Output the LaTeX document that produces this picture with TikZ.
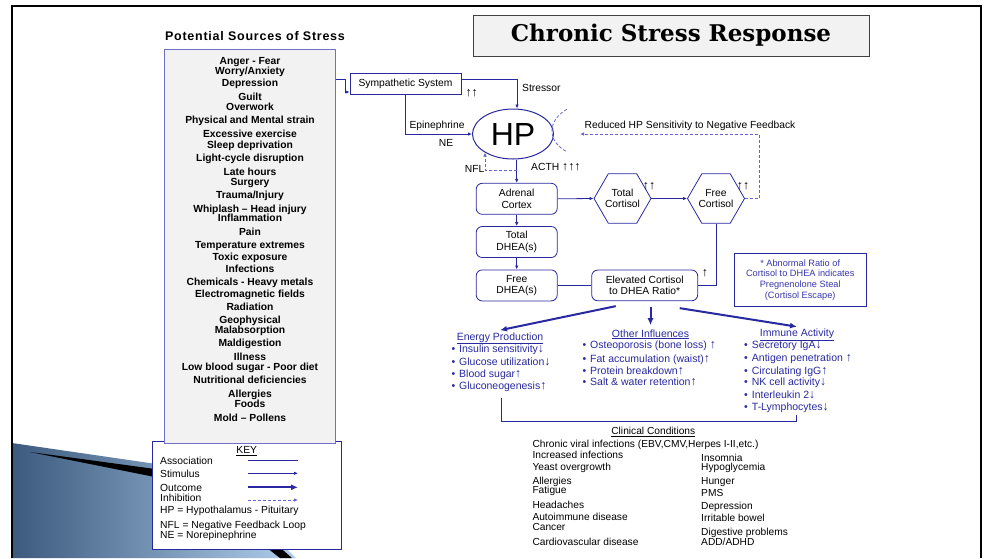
\documentclass[tikz,border=0pt]{standalone}
\usepackage{fontspec}
\setmainfont{Liberation Sans}
\newfontfamily\titlefont{DejaVu Serif}
\usetikzlibrary{arrows.meta,shapes.geometric}

\definecolor{lineblue}{RGB}{40,40,160}
\definecolor{dashblue}{RGB}{100,100,210}
\definecolor{boxgrey}{RGB}{242,242,242}
\definecolor{srcborder}{RGB}{112,112,200}
\definecolor{notetext}{RGB}{55,55,170}
\definecolor{swoopdark}{RGB}{60,90,125}
\definecolor{swooplight}{RGB}{175,205,235}

% arrows used as up / down marks in the text
\newcommand{\uarr}{{\fontsize{12.3}{12}\selectfont ↑}}
\newcommand{\darr}{{\fontsize{12.3}{12}\selectfont ↓}}

% connector and box styles
\tikzset{
  assoc/.style={draw=lineblue, line width=0.8pt},
  stim/.style={assoc, -{Latex[length=4pt,width=3.5pt]}},
  outc/.style={draw=lineblue, line width=2pt, -{Latex[length=7pt,width=6pt]}},
  inhib/.style={draw=dashblue, line width=0.8pt, dash pattern=on 3pt off 2pt, -{Latex[length=4pt,width=3.5pt]}},
  organ/.style={draw=lineblue, line width=0.8pt, rounded corners=6pt, align=center,
    minimum width=81pt, minimum height=31pt, inner sep=1pt, font=\fontsize{10.3}{11.5}\selectfont},
  hormone/.style={draw=lineblue, line width=0.8pt, regular polygon, regular polygon sides=6,
    minimum size=50pt, inner sep=0pt, align=center, font=\fontsize{10.3}{11.5}\selectfont},
  txt/.style={inner sep=0pt, font=\fontsize{10.3}{12}\selectfont},
  srcitem/.style={inner sep=0pt, anchor=base, font=\fontsize{10.3}{12}\selectfont\bfseries},
  blueitem/.style={inner sep=0pt, anchor=base west, text=lineblue, font=\fontsize{10.5}{12}\selectfont,
    execute at begin node=\llap{\textbullet\hspace{4pt}}},
  bluehead/.style={inner sep=0pt, anchor=base, text=lineblue, font=\fontsize{10.5}{12}\selectfont},
  clinitem/.style={inner sep=0pt, anchor=base west, font=\fontsize{10.2}{12}\selectfont},
}

\begin{document}
\begin{tikzpicture}[x=1pt,y=-1pt]
  \useasboundingbox (0,0) rectangle (992,558);

  % slide decoration
  \shade[left color=swoopdark, right color=swooplight]
    (12,443) -- (170,466) .. controls (230,500) and (268,530) .. (296,558) -- (12,558) -- cycle;
  \fill[black] (30,452) -- (170,471) .. controls (230,505) and (266,535) .. (292,558) -- (280,558)
    .. controls (250,535) and (215,505) .. (165,479) -- cycle;
  \draw[line width=2.5pt] (12,558) -- (12,6) -- (981,6) -- (981,558);

  % title
  \node[draw=black!75, fill=boxgrey, line width=0.8pt, minimum width=396pt, minimum height=41pt,
    font=\titlefont\bfseries\fontsize{23}{26}\selectfont] (title) at (671,35.5) {Chronic Stress Response};

  % key
  \node[draw=lineblue, fill=white, line width=0.8pt, minimum width=189.4pt, minimum height=107.6pt] (key) at (247,495.5) {};
  \node[txt, anchor=base] (keyhdr) at (246.7,453.7) {\underline{KEY}};
  \node[txt, anchor=base west] (kassoc) at (160,464.4) {Association};
  \node[txt, anchor=base west] (kstim) at (160,477) {Stimulus};
  \node[txt, anchor=base west] (koutc) at (160,491) {Outcome};
  \node[txt, anchor=base west] (kinhib) at (160,501) {Inhibition};
  \node[txt, anchor=base west] (khp) at (160,513.7) {HP = Hypothalamus - Pituitary};
  \node[txt, anchor=base west] (knfl) at (160,528.7) {NFL = Negative Feedback Loop};
  \node[txt, anchor=base west] (kne) at (160,538.7) {NE = Norepinephrine};
  \coordinate (ka1) at (248,460.7); \coordinate (ka2) at (298,460.7);
  \coordinate (ks1) at (248,473.3); \coordinate (ks2) at (298,473.3);
  \coordinate (ko1) at (248,487.3); \coordinate (ko2) at (298,487.3);
  \coordinate (ki1) at (248,500);   \coordinate (ki2) at (298,500);
  \draw[assoc] (ka1) -- (ka2);
  \draw[stim] (ks1) -- (ks2);
  \draw[outc] (ko1) -- (ko2);
  \draw[inhib] (ki1) -- (ki2);

  % sources of stress
  \node[inner sep=0pt, anchor=base, font=\fontsize{12.5}{14}\selectfont\bfseries\addfontfeature{LetterSpace=6}] (srchdr) at (255,40.5) {Potential Sources of Stress};
  \node[draw=srcborder, fill=boxgrey, line width=0.8pt, minimum width=170.3pt, minimum height=394pt] (sources) at (250,246) {};
  \foreach \yy/\txt [count=\i] in {64.3/{Anger - Fear}, 74.3/{Worry/Anxiety}, 86.9/{Depression},
      100.9/{Guilt}, 110.9/{Overwork}, 123.6/{Physical and Mental strain}, 137.9/{Excessive exercise},
      148.3/{Sleep deprivation}, 161.6/{Light-cycle disruption}, 175.3/{Late hours}, 185.6/{Surgery},
      198.9/{Trauma/Injury}, 212.1/{Whiplash – Head injury}, 221.9/{Inflammation}, 235.9/{Pain},
      248.9/{Temperature extremes}, 260.3/{Toxic exposure}, 272.9/{Infections},
      285.9/{Chemicals - Heavy metals}, 297.3/{Electromagnetic fields}, 310.3/{Radiation},
      323.9/{Geophysical}, 333.9/{Malabsorption}, 346.9/{Maldigestion}, 360.9/{Illness},
      370.9/{Low blood sugar - Poor diet}, 383.9/{Nutritional deficiencies}, 397.9/{Allergies},
      407.9/{Foods}, 421.9/{Mold – Pollens}}
    \node[srcitem] (src\i) at (250,\yy) {\txt};

  % hypothalamus - pituitary
  \node[draw=lineblue, line width=0.8pt, minimum width=111pt, minimum height=21.4pt, inner sep=0pt,
    font=\fontsize{10.3}{12}\selectfont] (symp) at (405.5,84) {Sympathetic System};
  \node[txt] (sympup) at (471.7,93) {\uarr\uarr};
  \node[draw=lineblue, line width=1pt, ellipse, minimum width=81pt, minimum height=50pt, inner sep=0pt,
    font=\fontsize{32}{32}\selectfont] (hp) at (513,134) {HP};
  \coordinate (srcjoin) at (345,79);
  \draw[stim] (sources.east |- srcjoin) -- (srcjoin) |- (symp.west |- 0,92);
  \draw[stim] (symp.east |- 0,79) -| ([xshift=4pt]hp.north);
  \node[txt, anchor=base west] (stressor) at (522,91.7) {Stressor};
  \draw[stim] (symp.south) |- (hp.west);
  \node[txt, anchor=base] (epi) at (437,128.7) {Epinephrine};
  \node[txt, anchor=base] (ne) at (446,146.4) {NE};

  % adrenal axis
  \node[organ] (adrenal) at (516.7,198.8) {Adrenal\\Cortex};
  \node[organ] (totdhea) at (516.7,242) {Total\\DHEA(s)};
  \node[organ] (freedhea) at (516.7,285.4) {Free\\DHEA(s)};
  \node[hormone] (totcort) at (622.5,198.5) {Total\\Cortisol};
  \node[hormone] (freecort) at (716,198.5) {Free\\Cortisol};
  \node[organ, minimum width=106pt, minimum height=30.7pt] (ratio) at (644.7,285.4) {Elevated Cortisol\\to DHEA Ratio*};
  \node[txt] (totup) at (649,186) {\uarr\uarr};
  \node[txt] (freeup) at (743,186) {\uarr\uarr};
  \node[txt] (ratioup) at (705,273) {\uarr};

  \draw[stim] (adrenal.north |- hp.south) -- (adrenal.north);
  \node[txt, anchor=base west] (acth) at (531,170.4) {ACTH \uarr\uarr\uarr};
  \coordinate (nflend) at (485,152.5);
  \draw[inhib] (adrenal.north |- 0,170) -| (nflend);
  \node[txt, anchor=base east] (nfl) at (484.5,172) {NFL};
  \draw[stim] (adrenal) -- (totdhea);
  \draw[stim] (totdhea) -- (freedhea);
  \draw[stim] (adrenal.east) -- (totcort.west);
  \draw[stim] (totcort.east) -- (freecort.west);
  \draw[assoc] (freecort.south) |- (ratio.east);
  \draw[assoc] (freedhea) -- (ratio);

  % reduced feedback
  \draw[dashblue, line width=0.8pt, dash pattern=on 3pt off 2pt]
    (566.7,109.3) .. controls (547,121) and (547,141) .. (566.7,151.7);
  \coordinate (fbend) at (580,134);
  \draw[inhib] (freecort.east) -| (759,134) -- (fbend);
  \node[txt, anchor=base] (fblbl) at (690,128.7) {Reduced HP Sensitivity to Negative Feedback};

  % note
  \node[draw=lineblue, line width=0.8pt, minimum width=131.7pt, minimum height=53.4pt, align=center,
    text=notetext, font=\fontsize{9.2}{10.9}\selectfont] (note) at (800.2,280)
    {* Abnormal Ratio of\\Cortisol to DHEA indicates\\Pregnenolone Steal\\(Cortisol Escape)};

  % outcomes
  \node[bluehead] (energy) at (500,340) {\underline{Energy Production}};
  \node[bluehead] (other) at (650.5,337) {\underline{Other Influences}};
  \node[bluehead] (immune) at (797,336.5) {\underline{Immune Activity}};
  \draw[outc] ([xshift=-29pt,yshift=-5pt]ratio.south) -- ([yshift=2pt]energy.north);
  \draw[outc] ([yshift=-6pt]ratio.south -| other.north) -- ([yshift=4pt]other.north);
  \draw[outc] ([xshift=35pt,yshift=-7pt]ratio.south) -- ([yshift=2pt]immune.north);

  \foreach \yy/\txt [count=\i] in {352/{Insulin sensitivity\darr}, 365/{Glucose utilization\darr},
      377.7/{Blood sugar\uarr}, 389/{Gluconeogenesis\uarr}}
    \node[blueitem] (en\i) at (459,\yy) {\txt};
  \foreach \yy/\txt [count=\i] in {348.5/{Osteoporosis (bone loss) \uarr}, 362/{Fat accumulation (waist)\uarr},
      374/{Protein breakdown\uarr}, 385/{Salt \& water retention\uarr}}
    \node[blueitem] (ot\i) at (590,\yy) {\txt};
  \foreach \yy/\txt [count=\i] in {348.5/{Secretory IgA\darr}, 361.5/{Antigen penetration \uarr},
      374/{Circulating IgG\uarr}, 385.8/{NK cell activity\darr}, 398.5/{Interleukin 2\darr}, 410.6/{T-Lymphocytes\darr}}
    \node[blueitem] (im\i) at (751.7,\yy) {\txt};

  % clinical conditions
  \coordinate (clinL) at (501.7,398.3);
  \coordinate (clinR) at (796.7,415);
  \draw[assoc] (clinL) |- (clinR |- 0,421.7) -- (clinR);
  \node[inner sep=0pt, anchor=base, font=\fontsize{10.2}{12}\selectfont] (clinhdr) at (653.3,434.3) {\underline{Clinical Conditions}};
  \foreach \yy/\txt [count=\i] in {447.6/{Chronic viral infections (EBV,CMV,Herpes I-II,etc.)},
      458.6/{Increased infections}, 470.9/{Yeast overgrowth}, 484.6/{Allergies}, 493.6/{Fatigue},
      508.6/{Headaches}, 520.9/{Autoimmune disease}, 530.9/{Cancer}, 545.9/{Cardiovascular disease}}
    \node[clinitem] (cl\i) at (532.3,\yy) {\txt};
  \foreach \yy/\txt [count=\i] in {461.9/{Insomnia}, 470.9/{Hypoglycemia}, 484.6/{Hunger}, 496.9/{PMS},
      509.3/{Depression}, 521.6/{Irritable bowel}, 535.9/{Digestive problems}, 545.9/{ADD/ADHD}}
    \node[clinitem] (cr\i) at (701,\yy) {\txt};
\end{tikzpicture}
\end{document}
